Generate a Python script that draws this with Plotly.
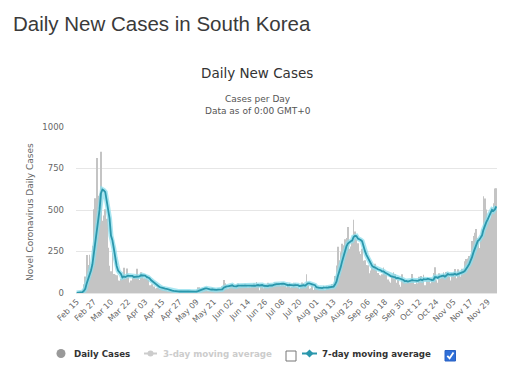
import pandas as pd
import plotly.graph_objects as go

# ---- data ----
feb = [0, 1, 1, 1, 20, 53, 100, 229, 169, 231, 144, 284, 505, 571, 813]
mar = [586, 599, 851, 435, 467, 505, 448, 273, 164, 131, 242, 114, 110, 107, 76, 74,
       84, 93, 152, 87, 147, 98, 64, 76, 100, 104, 91, 146, 105, 78, 125]
apr = [101, 89, 86, 94, 81, 47, 47, 53, 39, 27, 30, 32, 25, 27, 27, 22, 22, 18, 8, 13,
       9, 11, 8, 6, 10, 10, 10, 14, 9, 4]
may = [9, 6, 13, 8, 3, 2, 4, 12, 18, 34, 35, 27, 26, 29, 27, 19, 13, 15, 13, 32, 12, 20,
       23, 25, 16, 19, 40, 79, 58, 39, 27]
jun = [35, 38, 49, 39, 39, 51, 57, 38, 38, 50, 45, 56, 49, 34, 37, 34, 43, 59, 49, 67,
       48, 17, 46, 51, 28, 39, 51, 62, 42, 43]
jul = [51, 54, 63, 63, 61, 48, 44, 63, 50, 45, 35, 44, 62, 33, 39, 61, 60, 39, 34, 26,
       45, 63, 59, 41, 113, 58, 25, 28, 48, 18, 36]
aug = [31, 30, 23, 34, 33, 43, 20, 43, 36, 28, 34, 54, 56, 103, 166, 279, 197, 246, 297,
       288, 324, 332, 397, 266, 280, 320, 441, 371, 323, 299, 248]
sep = [235, 267, 195, 198, 168, 167, 119, 136, 156, 155, 176, 136, 121, 109, 106, 113,
       153, 126, 110, 82, 70, 61, 110, 125, 114, 61, 95, 50, 38, 113]
oct_ = [77, 63, 75, 64, 73, 75, 114, 69, 54, 72, 58, 98, 102, 84, 110, 47, 73, 91, 76, 58,
        91, 121, 155, 77, 61, 119, 88, 103, 125, 114, 127]
nov = [124, 97, 75, 118, 125, 145, 89, 143, 126, 100, 146, 143, 191, 205, 208, 223, 230,
       313, 343, 363, 386, 330, 271, 349, 382, 583, 569, 503, 450, 438]
dec = [451, 511, 540, 629, 631]

daily_cases = feb + mar + apr + may + jun + jul + aug + sep + oct_ + nov + dec
dates = pd.date_range("2020-02-15", periods=len(daily_cases), freq="D")
categories = [d.strftime("%b %d") for d in dates]
moving_avg_7 = pd.Series(daily_cases).rolling(7, min_periods=1).mean().round(1).tolist()

tick_labels = ["Feb 15", "Feb 27", "Mar 10", "Mar 22", "Apr 03", "Apr 15", "Apr 27",
               "May 09", "May 21", "Jun 02", "Jun 14", "Jun 26", "Jul 08", "Jul 20",
               "Aug 01", "Aug 13", "Aug 25", "Sep 06", "Sep 18", "Sep 30", "Oct 12",
               "Oct 24", "Nov 05", "Nov 17", "Nov 29"]
y_ticks = [0, 250, 500, 750, 1000]

# ---- layout geometry (pixels) ----
W_PX, H_PX = 505, 377
L, R, T, B = 76, 497, 127, 293
PW, PH = R - L, B - T


def X(px):
    return (px - L) / PW


def Y(py):
    return (B - py) / PH


BODY = "DejaVu Sans, Verdana, sans-serif"
TEAL = "#2a97ac"

fig = go.Figure()
fig.add_trace(go.Bar(x=categories, y=daily_cases, name="Daily Cases",
                     marker=dict(color="#c4c4c4", line=dict(width=0)),
                     showlegend=False))
fig.add_trace(go.Scatter(x=categories, y=moving_avg_7, mode="lines",
                         line=dict(color="rgba(140,222,236,0.75)", width=5),
                         hoverinfo="skip", showlegend=False))
fig.add_trace(go.Scatter(x=categories, y=moving_avg_7, mode="lines",
                         name="7-day moving average",
                         line=dict(color=TEAL, width=1.8), showlegend=False))


def ann(text, px, py, size, color, xanchor="left", family=BODY, **kw):
    return dict(text=text, x=X(px), y=Y(py), xref="paper", yref="paper",
                xanchor=xanchor, yanchor="middle", showarrow=False,
                font=dict(family=family, size=size, color=color), **kw)


annotations = [
    ann("Daily New Cases in South Korea", 11, 23, 20.5, "#3a3a3a",
        family="Liberation Sans, Arial, sans-serif"),
    ann("Daily New Cases", 257, 73, 13.5, "#333333", xanchor="center"),
    ann("Cases per Day", 257.5, 98.5, 9, "#555555", xanchor="center"),
    ann("Data as of 0:00 GMT+0", 257.5, 110.5, 9, "#555555", xanchor="center"),
    ann("Novel Coronavirus Daily Cases", 30, 212, 9, "#666666", xanchor="center",
        textangle=-90),
    # legend texts
    ann("<b>Daily Cases</b>", 72, 353.5, 8.7, "#333333"),
    ann("<b>3-day moving average</b>", 161, 353.5, 8.7, "#cccccc"),
    ann("<b>7-day moving average</b>", 320, 353.5, 8.7, "#333333"),
]

shapes = [
    # Daily cases legend symbol
    dict(type="circle", xref="paper", yref="paper", x0=X(56.5), x1=X(65.5),
         y0=Y(358), y1=Y(349), fillcolor="#999999", line=dict(width=0)),
    # 3-day legend symbol
    dict(type="line", xref="paper", yref="paper", x0=X(144), x1=X(157), y0=Y(353.5),
         y1=Y(353.5), line=dict(color="#cccccc", width=2)),
    dict(type="circle", xref="paper", yref="paper", x0=X(147.5), x1=X(153.5),
         y0=Y(356.5), y1=Y(350.5), fillcolor="#cccccc", line=dict(width=0)),
    # checkbox 1 (unchecked)
    dict(type="rect", xref="paper", yref="paper", x0=X(286), x1=X(296), y0=Y(361),
         y1=Y(351), fillcolor="white", line=dict(color="#767676", width=1)),
    # 7-day legend symbol
    dict(type="line", xref="paper", yref="paper", x0=X(302), x1=X(317), y0=Y(353.5),
         y1=Y(353.5), line=dict(color=TEAL, width=2)),
    dict(type="path", xref="paper", yref="paper",
         path=(f"M {X(309.5)} {Y(349.5)} L {X(313.5)} {Y(353.5)} "
               f"L {X(309.5)} {Y(357.5)} L {X(305.5)} {Y(353.5)} Z"),
         fillcolor=TEAL, line=dict(width=0)),
    # checkbox 2 (checked)
    dict(type="rect", xref="paper", yref="paper", x0=X(445), x1=X(455.5), y0=Y(361),
         y1=Y(350.5), fillcolor="#2f6fd8", line=dict(color="#2a62c4", width=1)),
    dict(type="path", xref="paper", yref="paper",
         path=(f"M {X(447.3)} {Y(355.8)} L {X(449.6)} {Y(358.3)} L {X(453.5)} {Y(352.6)}"),
         line=dict(color="white", width=1.8)),
]

fig.update_layout(
    width=W_PX, height=H_PX,
    margin=dict(l=L, r=W_PX - R, t=T, b=H_PX - B, pad=0, autoexpand=False),
    paper_bgcolor="white", plot_bgcolor="white",
    bargap=0.5,
    showlegend=False,
    font=dict(family=BODY, color="#666666"),
    annotations=annotations,
    shapes=shapes,
    xaxis=dict(type="category", range=[-0.5, len(daily_cases) - 0.5],
               tickmode="array", tickvals=tick_labels, ticktext=tick_labels,
               tickangle=-45, tickfont=dict(family=BODY, size=8, color="#666666"),
               showgrid=False, showline=True, linecolor="#e6e6e6", ticks="",
               zeroline=False, fixedrange=True, automargin=False),
    yaxis=dict(range=[0, 1000], tickvals=y_ticks, ticktext=[str(v) for v in y_ticks],
               tickfont=dict(family=BODY, size=8.5, color="#666666"),
               showgrid=True, gridcolor="#e6e6e6", gridwidth=1, zeroline=False,
               ticklabelstandoff=11, ticks="", fixedrange=True, automargin=False),
)

fig.write_html("out.html", config={"displayModeBar": False},
               post_script="document.body.style.margin='0';")
